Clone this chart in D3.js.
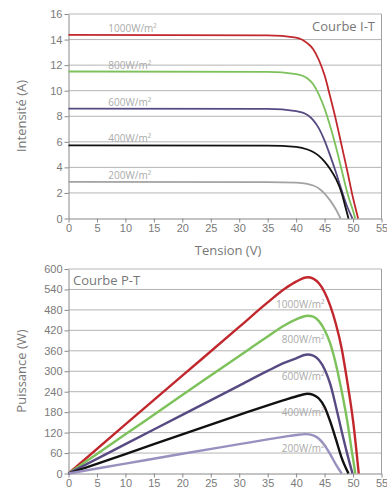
<!DOCTYPE html>
<html lang="fr">
<head>
  <meta charset="UTF-8" />
  <title>Courbes I-T / P-T</title>
  <script src="https://d3js.org/d3.v7.min.js"></script>
  <style>
    body { margin: 0; background: #fff; }
    svg { display: block; font-family: "Open Sans", sans-serif; }
    .tick text { fill: #7a7a7a; font-size: 11px; }
    .tick line { stroke: #888; }
    .domain { stroke: #888; }
  </style>
</head>
<body>
<svg id="chart" width="387" height="488"></svg>
<script>
  // tick values
  const voltTicks = [0, 5, 10, 15, 20, 25, 30, 35, 40, 45, 50, 55];
  const ampTicks = [0, 2, 4, 6, 8, 10, 12, 14, 16];
  const wattTicks = [0, 60, 120, 180, 240, 300, 360, 420, 480, 540, 600];

  const irradiance = ["1000W/m²", "800W/m²", "600W/m²", "400W/m²", "200W/m²"];

  // courbe I-T : [tension V, intensité A]
  const iv1000 = [[0,14.36],[35,14.33],[40,14.15],[42,13.7],[43,13.25],[44,12.4],[45,11.2],[46,9.5],[47,7.7],[48,5.7],[49,3.7],[50,1.6],[50.9,0]];
  const iv800  = [[0,11.5],[35,11.47],[40,11.3],[42,10.95],[43,10.5],[44,9.7],[45,8.6],[46,7.2],[47,5.6],[48,3.8],[49,2.0],[50,0.6],[50.4,0]];
  const iv600  = [[0,8.6],[35,8.57],[40,8.4],[42,8.1],[43,7.7],[44,7.05],[45,6.1],[46,4.9],[47,3.6],[48,2.2],[49,0.9],[49.9,0]];
  const iv400  = [[0,5.72],[35,5.7],[40,5.6],[42,5.4],[43,5.2],[44,4.9],[45,4.45],[46,3.85],[47,3.1],[48,2.0],[48.6,1.0],[49.2,0]];
  const iv200  = [[0,2.87],[35,2.85],[40,2.8],[42,2.7],[43,2.58],[44,2.35],[45,1.95],[46,1.4],[47,0.7],[47.8,0]];

  // courbe P-T : [tension V, puissance W]
  const pv1000 = [[0,0],[10,144],[20,287],[30,430],[35,502],[38,542],[40,563],[42,576],[43,572],[44,558],[45,532],[46,492],[47,438],[48,367],[49,268],[50,155],[51,0]];
  const pv800  = [[0,0],[10,115],[20,230],[30,345],[35,402],[38,435],[40,452],[42,463],[43,460],[44,447],[45,421],[46,381],[47,320],[48,242],[49,152],[49.8,64],[50.4,0]];
  const pv600  = [[0,0],[10,86],[20,172],[30,258],[35,301],[38,325],[40,338],[42,349],[43,346],[44,333],[45,306],[46,262],[47,196],[48,124],[49,56],[49.9,0]];
  const pv400  = [[0,0],[10,57],[20,115],[30,172],[35,200],[38,216],[40,226],[42,234],[43,231],[44,220],[45,195],[46,152],[47,100],[48,46],[49.2,0]];
  const pv200  = [[0,0],[10,29],[20,58],[30,86],[35,100],[38,108],[40,113],[41.6,115.5],[43,112],[44,102],[45,83],[46,56],[47,26],[48,0]];

  const ivSeries = [iv1000, iv800, iv600, iv400, iv200];
  const pvSeries = [pv1000, pv800, pv600, pv400, pv200];
  const ivColors = ["#c1272d", "#7cc15a", "#574a82", "#111111", "#a3a3a3"];
  const pvColors = ["#c1272d", "#7cc15a", "#574a82", "#111111", "#9a90bf"];

  const svg = d3.select("#chart");
  const left = 68.5, right = 381.5;

  const x = d3.scaleLinear().domain([0, 55]).range([left, right]);
  const yI = d3.scaleLinear().domain([0, 16]).range([218.5, 14]);
  const yP = d3.scaleLinear().domain([0, 600]).range([473.5, 269]);

  function panel(y, yTicks, series, colors, width) {
    const g = svg.append("g");
    const [y0, y1] = y.range();

    // gridlines
    g.selectAll(".grid").data(yTicks.slice(1)).enter().append("line")
      .attr("x1", left).attr("x2", right)
      .attr("y1", d => y(d)).attr("y2", d => y(d))
      .attr("stroke", (d, i) => i === yTicks.length - 2 ? "#cfcfcf" : "#b4b4b4")
      .attr("stroke-width", (d, i) => i === yTicks.length - 2 ? 1.6 : 1);

    // right border
    g.append("line")
      .attr("x1", right).attr("x2", right).attr("y1", y1).attr("y2", y0)
      .attr("stroke", "#a0a0a0");

    g.append("g").attr("transform", `translate(0,${y0})`)
      .call(d3.axisBottom(x).tickValues(voltTicks).tickSize(4).tickPadding(2).tickSizeOuter(0));
    g.append("g").attr("transform", `translate(${left},0)`)
      .call(d3.axisLeft(y).tickValues(yTicks).tickSize(4).tickPadding(2).tickSizeOuter(0));

    const line = d3.line().x(d => x(d[0])).y(d => y(d[1])).curve(d3.curveMonotoneX);
    g.selectAll(".curve").data(series).enter().append("path")
      .attr("d", line)
      .attr("fill", "none")
      .attr("stroke", (d, i) => colors[i])
      .attr("stroke-width", width);
    return g;
  }

  const ivPanel = panel(yI, ampTicks, ivSeries, ivColors, 1.8);
  const pvPanel = panel(yP, wattTicks, pvSeries, pvColors, 2.4);

  // labels on I-T
  ivPanel.selectAll(".lab").data(ivSeries).enter().append("text")
    .attr("x", x(7))
    .attr("y", d => yI(d[0][1]) - 3)
    .attr("fill", "#aaaaaa")
    .attr("font-size", 10)
    .text((d, i) => irradiance[i]);

  // labels on P-T
  const pLabelW = [496, 392, 285, 180, 72];
  pvPanel.selectAll(".lab").data(pLabelW).enter().append("text")
    .attr("x", x(45))
    .attr("y", d => yP(d))
    .attr("dy", "0.35em")
    .attr("text-anchor", "end")
    .attr("fill", "#aaaaaa")
    .attr("font-size", 10)
    .text((d, i) => irradiance[i]);

  // titles
  svg.append("text").attr("x", 375).attr("y", 31).attr("text-anchor", "end")
    .attr("fill", "#777").attr("font-size", 13).text("Courbe I-T");
  svg.append("text").attr("x", 73).attr("y", 285)
    .attr("fill", "#777").attr("font-size", 13).text("Courbe P-T");

  svg.append("text").attr("x", 228).attr("y", 255).attr("text-anchor", "middle")
    .attr("fill", "#777").attr("font-size", 13).text("Tension (V)");
  svg.append("text").attr("transform", "translate(26,116) rotate(-90)")
    .attr("text-anchor", "middle")
    .attr("fill", "#777").attr("font-size", 13).text("Intensité (A)");
  svg.append("text").attr("transform", "translate(26,371) rotate(-90)")
    .attr("text-anchor", "middle")
    .attr("fill", "#777").attr("font-size", 13).text("Puissance (W)");
</script>
</body>
</html>
